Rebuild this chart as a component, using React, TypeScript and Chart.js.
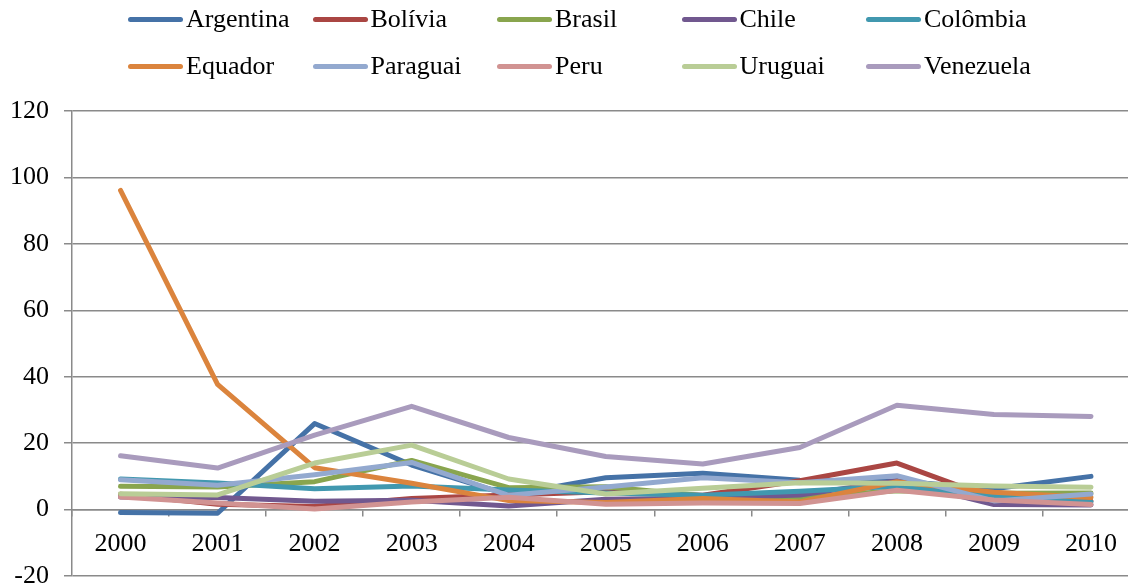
import React, { useEffect, useRef } from 'react';
import { Chart, registerables } from 'chart.js';

Chart.register(...registerables);

const years = ['2000', '2001', '2002', '2003', '2004', '2005', '2006', '2007', '2008', '2009', '2010'];

const argentina = [-0.9, -1.1, 25.9, 13.4, 4.4, 9.6, 10.9, 8.8, 8.6, 6.3, 10.0];
const bolivia = [4.6, 1.6, 0.9, 3.3, 4.4, 5.4, 4.3, 8.7, 14.0, 3.3, 2.5];
const brasil = [7.0, 6.8, 8.4, 14.8, 6.6, 6.9, 4.2, 3.6, 5.7, 4.9, 5.0];
const chile = [3.8, 3.6, 2.5, 2.8, 1.1, 3.1, 3.4, 4.4, 8.7, 1.5, 1.4];
const colombia = [9.2, 8.0, 6.3, 7.1, 5.9, 5.0, 4.3, 5.5, 7.0, 4.2, 2.3];
const equador = [96.1, 37.7, 12.6, 7.9, 2.7, 2.1, 3.3, 2.3, 8.4, 5.2, 3.6];
const paraguai = [9.0, 7.3, 10.5, 14.2, 4.3, 6.8, 9.6, 8.1, 10.2, 2.6, 4.7];
const peru = [3.8, 2.0, 0.2, 2.3, 3.7, 1.6, 2.0, 1.8, 5.8, 2.9, 1.5];
const uruguai = [4.8, 4.4, 14.0, 19.4, 9.2, 4.7, 6.4, 8.1, 7.9, 7.1, 6.7];
const venezuela = [16.2, 12.5, 22.4, 31.1, 21.7, 16.0, 13.7, 18.7, 31.4, 28.6, 28.0];

const seriesNames = ['Argentina', 'Bolívia', 'Brasil', 'Chile', 'Colômbia', 'Equador', 'Paraguai', 'Peru', 'Uruguai', 'Venezuela'];
const seriesValues = [argentina, bolivia, brasil, chile, colombia, equador, paraguai, peru, uruguai, venezuela];
const seriesColors = ['#4572A7', '#AA4643', '#89A54E', '#71588F', '#4198AF', '#DB843D', '#93A9CF', '#D19392', '#B9CD96', '#A99BBD'];

const yMin = -20;
const yMax = 120;
const yStep = 20;

const FONT_FAMILY = '"Liberation Serif", "Times New Roman", serif';
const GRID = '#8a8a8a';

export default function App() {
  const ref = useRef<HTMLCanvasElement>(null);

  useEffect(() => {
    const canvas = ref.current;
    if (!canvas) return;
    const font = { family: FONT_FAMILY, size: 26 };
    const chart = new Chart(canvas, {
      type: 'line',
      data: {
        labels: years,
        datasets: seriesValues.map((d, i) => ({
          label: seriesNames[i],
          data: d,
          borderColor: seriesColors[i],
          backgroundColor: seriesColors[i],
          borderWidth: 5,
          pointRadius: 0,
          pointHoverRadius: 0,
          tension: 0,
          borderCapStyle: 'round',
          borderJoinStyle: 'round',
          order: seriesValues.length - i,
        })),
      },
      options: {
        responsive: false,
        animation: false,
        devicePixelRatio: 1,
        layout: { padding: { left: 0, right: 8.5, top: 103, bottom: 32 } },
        plugins: { legend: { display: false }, tooltip: { enabled: false } },
        scales: {
          x: {
            position: { y: 0 },
            offset: true,
            grid: {
              offset: true,
              drawOnChartArea: false,
              drawTicks: true,
              tickLength: 6,
              color: GRID,
              lineWidth: 1.5,
            },
            border: { display: true, color: GRID, width: 1.5 },
            ticks: { padding: 13, font, color: '#000', maxRotation: 0, autoSkip: false },
          },
          y: {
            min: yMin,
            max: yMax,
            ticks: { stepSize: yStep, padding: 15, font, color: '#000' },
            grid: { color: GRID, lineWidth: 1.5, tickLength: 8 },
            border: { display: true, color: GRID, width: 1.5 },
            afterFit: (s: any) => {
              s.width = 64;
            },
          },
        },
      } as any,
    });
    return () => chart.destroy();
  }, []);

  return (
    <div style={{ position: 'relative', width: 1128, height: 578, overflow: 'hidden' }}>
      <canvas ref={ref} width={1140} height={600} style={{ display: 'block', width: 1140, height: 600 }} />
      {seriesNames.map((name, i) => {
        const col = i % 5;
        const row = Math.floor(i / 5);
        return (
          <div
            key={name}
            style={{
              position: 'absolute',
              left: 120 + col * 184.5,
              top: (row === 0 ? 11 : 58) - 15,
              height: 30,
              display: 'flex',
              alignItems: 'center',
              whiteSpace: 'nowrap',
              fontFamily: FONT_FAMILY,
              fontSize: 26,
              lineHeight: '30px',
              color: '#000',
            }}
          >
            <span
              style={{
                display: 'inline-block',
                width: 55,
                height: 5,
                borderRadius: 3,
                background: seriesColors[i],
                marginRight: 3,
              }}
            />
            <span>{name}</span>
          </div>
        );
      })}
    </div>
  );
}
